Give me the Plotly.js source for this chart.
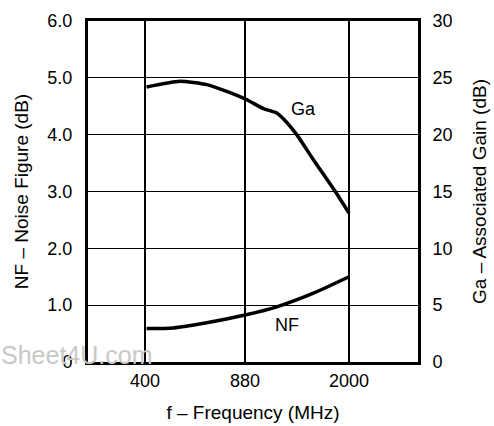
<!DOCTYPE html>
<html>
<head>
<meta charset="utf-8">
<script src="https://cdn.plot.ly/plotly-3.0.1.min.js"></script>
<style>html,body{margin:0;padding:0;background:#fff;}#chart{width:494px;height:426px;}</style>
</head>
<body>
<div id="chart"></div>
<script>
// Frequency in MHz
var gaFreq = [405, 527, 651, 762, 888, 1018, 1131, 1191, 1324, 1510, 1816, 2000];
var gaValues = [24.2, 24.7, 24.4, 23.8, 23.1, 22.3, 21.9, 21.4, 20.0, 17.8, 14.8, 13.1];
var nfFreq = [405, 500, 651, 888, 1131, 1510, 2000];
var nfValues = [0.59, 0.60, 0.69, 0.83, 0.97, 1.21, 1.50];
var xTickVals = [400, 880, 2000];
var xTickText = ['400', '880', '2000'];
var nfTickVals = [0, 1, 2, 3, 4, 5, 6];
var nfTickText = ['0', '1.0', '2.0', '3.0', '4.0', '5.0', '6.0'];
var gaTickVals = [0, 5, 10, 15, 20, 25, 30];
var gaTickText = ['0', '5', '10', '15', '20', '25', '30'];

var FAM = 'Liberation Sans, Arial, sans-serif';
var tickFont = {family: FAM, size: 18, color: '#000'};
var titleFont = {family: FAM, size: 19, color: '#000'};

var traces = [
  {x: nfFreq, y: nfValues, type: 'scatter', mode: 'lines', yaxis: 'y',
   line: {color: '#000', width: 3.5, shape: 'spline', smoothing: 0.6}, hoverinfo: 'skip'},
  {x: gaFreq, y: gaValues, type: 'scatter', mode: 'lines', yaxis: 'y2',
   line: {color: '#000', width: 3.5, shape: 'spline', smoothing: 0.5}, hoverinfo: 'skip'}
];

var layout = {
  width: 494, height: 426,
  margin: {l: 88, r: 76, t: 21, b: 64},
  paper_bgcolor: '#fff', plot_bgcolor: '#fff',
  showlegend: false,
  font: tickFont,
  xaxis: {
    type: 'log', range: [2.4067, 3.5375],
    tickvals: xTickVals, ticktext: xTickText,
    showgrid: true, gridcolor: '#000', gridwidth: 1.3,
    showline: true, linecolor: '#000', linewidth: 3, mirror: true,
    ticks: '', ticklabelstandoff: 0, zeroline: false,
    tickfont: tickFont,
    title: {text: 'f – Frequency (MHz)', font: titleFont, standoff: 17}
  },
  yaxis: {
    range: [0, 6], tickvals: nfTickVals, ticktext: nfTickText,
    showgrid: true, gridcolor: '#000', gridwidth: 1.3,
    showline: true, linecolor: '#000', linewidth: 3,
    ticks: '', ticklabelstandoff: 9, zeroline: false,
    tickfont: tickFont,
    title: {text: 'NF – Noise Figure (dB)', font: titleFont, standoff: 14}
  },
  yaxis2: {
    overlaying: 'y', side: 'right',
    range: [0, 30], tickvals: gaTickVals, ticktext: gaTickText,
    showgrid: false,
    showline: true, linecolor: '#000', linewidth: 3,
    ticks: '', ticklabelstandoff: 8, zeroline: false,
    tickfont: tickFont,
    title: {text: 'Ga – Associated Gain (dB)', font: titleFont, standoff: 22}
  },
  annotations: [
    {x: Math.log10(1392), y: 22.3, xref: 'x', yref: 'y2', text: 'Ga', showarrow: false, font: tickFont},
    {x: Math.log10(1227), y: 0.65, xref: 'x', yref: 'y', text: 'NF', showarrow: false, font: tickFont},
    {x: -0.27, y: 0.02, xref: 'paper', yref: 'paper', xanchor: 'left', yanchor: 'middle',
     text: 'Sheet4U.com', showarrow: false,
     font: {family: FAM, size: 25, color: '#c8c8c8'}}
  ]
};

Plotly.newPlot('chart', traces, layout, {staticPlot: true, displayModeBar: false});
</script>
</body>
</html>
